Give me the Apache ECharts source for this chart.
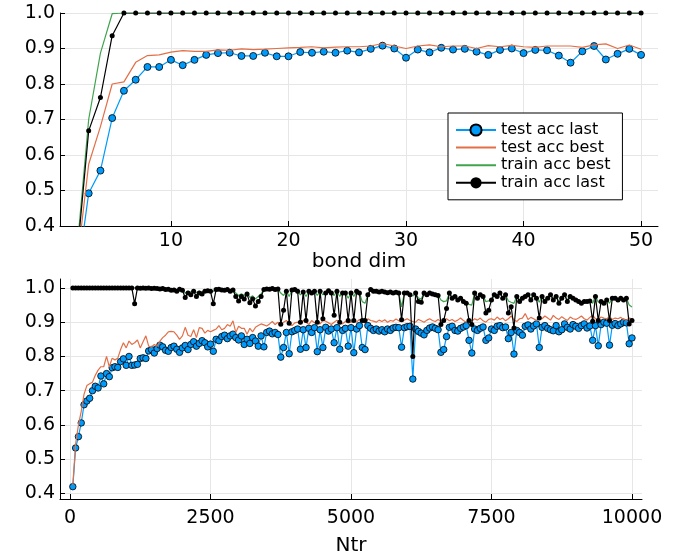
<!DOCTYPE html>
<html style="height: 100%">
<head>
    <meta charset="utf-8">
</head>
<body style="height: 100%; margin: 0; background-color: #fff;">
<div id="container" style="width: 691px; height: 557px"></div>
<script type="text/javascript" src="https://cdn.jsdelivr.net/npm/echarts@6/dist/echarts.min.js"></script>
<script type="text/javascript">
// top panel: accuracy vs bond dimension (bond dim 2..50)
var bondDims = [];
for (var d = 2; d <= 50; d++) bondDims.push(d);

var bdTestLast = [0.25, 0.492, 0.556, 0.704, 0.781, 0.812, 0.848, 0.848, 0.868, 0.853,
    0.868, 0.882, 0.887, 0.888, 0.879, 0.879, 0.888, 0.878, 0.878, 0.89,
    0.888, 0.891, 0.888, 0.894, 0.889, 0.899, 0.908, 0.90, 0.874, 0.897,
    0.889, 0.902, 0.897, 0.899, 0.891, 0.882, 0.896, 0.90, 0.887, 0.896,
    0.895, 0.880, 0.86, 0.892, 0.907, 0.869, 0.885, 0.899, 0.882];
var bdTestBest = [0.29, 0.574, 0.68, 0.80, 0.806, 0.861, 0.88, 0.882, 0.89, 0.894,
    0.892, 0.892, 0.896, 0.895, 0.899, 0.897, 0.898, 0.90, 0.902,
    0.903, 0.905, 0.902, 0.904, 0.905, 0.905, 0.907, 0.914, 0.907, 0.90,
    0.907, 0.91, 0.905, 0.907, 0.907, 0.90, 0.908, 0.905, 0.909, 0.905,
    0.903, 0.907, 0.907, 0.907, 0.903, 0.91, 0.913, 0.90, 0.91, 0.898];
var bdTrainBest = [0.33, 0.70, 0.887, 0.998, 1, 1, 1, 1, 1, 1,
    1, 1, 1, 1, 1, 1, 1, 1, 1, 1, 1, 1, 1, 1, 1, 1, 1, 1, 1, 1,
    1, 1, 1, 1, 1, 1, 1, 1, 1, 1, 1, 1, 1, 1, 1, 1, 1, 1, 1];
var bdTrainLast = [0.31, 0.668, 0.762, 0.936, 1, 1, 1, 1, 1, 1,
    1, 1, 1, 1, 1, 1, 1, 1, 1, 1, 1, 1, 1, 1, 1, 1, 1, 1, 1, 1,
    1, 1, 1, 1, 1, 1, 1, 1, 1, 1, 1, 1, 1, 1, 1, 1, 1, 1, 1];

// bottom panel: accuracy vs training set size (Ntr = 50..10000, step 50)
var ntr = [];
for (var n = 50; n <= 10000; n += 50) ntr.push(n);

var ntTestLast = [
    0.42, 0.533, 0.566, 0.606, 0.659, 0.67, 0.678, 0.70, 0.713, 0.708,
    0.743, 0.72, 0.75, 0.741, 0.767, 0.77, 0.768, 0.785, 0.793, 0.774,
    0.80, 0.774, 0.775, 0.777, 0.794, 0.796, 0.794, 0.816, 0.82, 0.81,
    0.823, 0.833, 0.828, 0.818, 0.815, 0.826, 0.83, 0.821, 0.812, 0.825,
    0.832, 0.82, 0.835, 0.843, 0.83, 0.838, 0.846, 0.84, 0.828, 0.836,
    0.815, 0.85, 0.846, 0.858, 0.862, 0.852, 0.86, 0.865, 0.855, 0.848,
    0.86, 0.835, 0.85, 0.838, 0.855, 0.845, 0.83, 0.86, 0.828, 0.87,
    0.874, 0.866, 0.87, 0.864, 0.798, 0.826, 0.87, 0.808, 0.872, 0.876,
    0.88, 0.821, 0.878, 0.826, 0.882, 0.87, 0.884, 0.814, 0.878, 0.826,
    0.885, 0.874, 0.88, 0.84, 0.884, 0.821, 0.876, 0.882, 0.83, 0.884,
    0.811, 0.88, 0.89, 0.826, 0.82, 0.89, 0.882, 0.876, 0.88, 0.874,
    0.878, 0.872, 0.88, 0.876, 0.883, 0.885, 0.884, 0.827, 0.884, 0.887,
    0.888, 0.734, 0.88, 0.873, 0.868, 0.863, 0.876, 0.883, 0.886, 0.882,
    0.878, 0.812, 0.82, 0.858, 0.885, 0.888, 0.876, 0.874, 0.882, 0.886,
    0.89, 0.847, 0.81, 0.88, 0.876, 0.882, 0.886, 0.847, 0.854, 0.88,
    0.876, 0.888, 0.89, 0.884, 0.886, 0.852, 0.87, 0.807, 0.876, 0.87,
    0.862, 0.888, 0.892, 0.88, 0.889, 0.895, 0.826, 0.885, 0.89, 0.882,
    0.878, 0.875, 0.89, 0.872, 0.878, 0.895, 0.885, 0.88, 0.893, 0.888,
    0.882, 0.89, 0.895, 0.883, 0.889, 0.847, 0.89, 0.831, 0.893, 0.9,
    0.897, 0.833, 0.891, 0.896, 0.89, 0.895, 0.9, 0.898, 0.837, 0.854];
var ntTestBest = [
    0.425, 0.545, 0.6, 0.64, 0.69, 0.715, 0.72, 0.725, 0.745, 0.76,
    0.77, 0.77, 0.8, 0.77, 0.795, 0.79, 0.795, 0.82, 0.84, 0.825,
    0.845, 0.835, 0.84, 0.848, 0.825, 0.843, 0.86, 0.83, 0.828, 0.835,
    0.83, 0.845, 0.855, 0.862, 0.872, 0.873, 0.872, 0.862, 0.85, 0.86,
    0.885, 0.862, 0.858, 0.878, 0.855, 0.884, 0.882, 0.868, 0.876, 0.872,
    0.876, 0.88, 0.89, 0.878, 0.882, 0.893, 0.888, 0.904, 0.87, 0.888,
    0.882, 0.882, 0.865, 0.882, 0.872, 0.885, 0.89, 0.895, 0.892, 0.889,
    0.895, 0.902, 0.893, 0.9, 0.89, 0.9, 0.905, 0.895, 0.89, 0.898,
    0.9, 0.895, 0.905, 0.9, 0.893, 0.905, 0.898, 0.9, 0.895, 0.905,
    0.903, 0.898, 0.893, 0.9, 0.906, 0.9, 0.895, 0.902, 0.898, 0.9,
    0.905, 0.9, 0.908, 0.902, 0.898, 0.91, 0.905, 0.903, 0.9, 0.906,
    0.902, 0.907, 0.9, 0.905, 0.903, 0.909, 0.904, 0.902, 0.906, 0.91,
    0.905, 0.902, 0.9, 0.908, 0.904, 0.9, 0.906, 0.91, 0.905, 0.902,
    0.908, 0.9, 0.905, 0.91, 0.904, 0.908, 0.902, 0.906, 0.912, 0.905,
    0.9, 0.908, 0.903, 0.91, 0.906, 0.912, 0.904, 0.9, 0.908, 0.91,
    0.906, 0.915, 0.908, 0.912, 0.904, 0.91, 0.918, 0.906, 0.902, 0.91,
    0.912, 0.925, 0.908, 0.914, 0.91, 0.905, 0.915, 0.91, 0.918, 0.912,
    0.906, 0.92, 0.912, 0.908, 0.916, 0.91, 0.905, 0.915, 0.91, 0.908,
    0.912, 0.918, 0.91, 0.906, 0.914, 0.92, 0.91, 0.908, 0.915, 0.912,
    0.91, 0.916, 0.908, 0.912, 0.91, 0.914, 0.908, 0.906, 0.912, 0.91];
var ntTrainBest = [
    1, 1, 1, 1, 1, 1, 1, 1, 1, 1,
    1, 1, 1, 1, 1, 1, 1, 1, 1, 1,
    1, 1, 1, 1, 1, 1, 1, 1, 1, 1,
    0.999, 0.998, 0.998, 0.997, 0.997, 0.996, 0.996, 0.995, 0.997, 0.996,
    0.985, 0.99, 0.988, 0.992, 0.986, 0.99, 0.988, 0.992, 0.993, 0.992,
    0.99, 0.996, 0.997, 0.995, 0.994, 0.996, 0.993, 0.995, 0.985, 0.978,
    0.983, 0.978, 0.986, 0.972, 0.977, 0.968, 0.975, 0.982, 0.996, 0.998,
    0.997, 0.998, 0.996, 0.997, 0.985, 0.978, 0.99, 0.975, 0.994, 0.995,
    0.99, 0.98, 0.988, 0.975, 0.99, 0.986, 0.99, 0.978, 0.99, 0.98,
    0.986, 0.992, 0.986, 0.978, 0.99, 0.975, 0.986, 0.986, 0.97, 0.986,
    0.975, 0.99, 0.986, 0.96, 0.955, 0.98, 0.995, 0.99, 0.99, 0.988,
    0.99, 0.988, 0.986, 0.988, 0.986, 0.987, 0.985, 0.945, 0.985, 0.986,
    0.982, 0.976, 0.985, 0.97, 0.968, 0.985, 0.981, 0.985, 0.982, 0.98,
    0.978, 0.965, 0.96, 0.962, 0.985, 0.972, 0.976, 0.968, 0.972, 0.963,
    0.958, 0.952, 0.95, 0.985, 0.972, 0.98, 0.976, 0.96, 0.962, 0.968,
    0.98, 0.976, 0.985, 0.972, 0.98, 0.962, 0.958, 0.955, 0.976, 0.965,
    0.972, 0.976, 0.98, 0.968, 0.98, 0.972, 0.958, 0.976, 0.963, 0.972,
    0.98, 0.968, 0.976, 0.96, 0.972, 0.98, 0.965, 0.976, 0.972, 0.968,
    0.963, 0.958, 0.962, 0.962, 0.964, 0.955, 0.976, 0.958, 0.962, 0.958,
    0.966, 0.955, 0.971, 0.971, 0.966, 0.971, 0.966, 0.97, 0.95, 0.944];
var ntTrainLast = [
    1, 1, 1, 1, 1, 1, 1, 1, 1, 1,
    1, 1, 1, 1, 1, 1, 1, 1, 1, 1,
    1, 1, 0.954, 1, 0.999, 1, 0.999, 1, 0.998, 0.999,
    0.998, 0.997, 0.998, 0.995, 0.996, 0.993, 0.994, 0.99, 0.996, 0.993,
    0.972, 0.985, 0.98, 0.99, 0.975, 0.985, 0.982, 0.99, 0.992, 0.99,
    0.954, 0.995, 0.996, 0.994, 0.993, 0.995, 0.99, 0.994, 0.975, 0.962,
    0.975, 0.968, 0.982, 0.957, 0.968, 0.947, 0.96, 0.975, 0.995, 0.997,
    0.996, 0.998, 0.995, 0.997, 0.894, 0.935, 0.99, 0.897, 0.994, 0.995,
    0.99, 0.9, 0.988, 0.905, 0.99, 0.985, 0.99, 0.9, 0.99, 0.91,
    0.985, 0.992, 0.985, 0.92, 0.99, 0.9, 0.985, 0.985, 0.905, 0.985,
    0.905, 0.99, 0.985, 0.905, 0.905, 0.98, 0.995, 0.99, 0.99, 0.988,
    0.99, 0.988, 0.986, 0.988, 0.985, 0.987, 0.985, 0.907, 0.985, 0.985,
    0.98, 0.80, 0.985, 0.96, 0.958, 0.985, 0.98, 0.985, 0.982, 0.98,
    0.978, 0.893, 0.905, 0.94, 0.985, 0.97, 0.975, 0.965, 0.97, 0.96,
    0.955, 0.905, 0.893, 0.985, 0.97, 0.98, 0.975, 0.927, 0.935, 0.965,
    0.98, 0.975, 0.985, 0.97, 0.98, 0.927, 0.945, 0.883, 0.975, 0.96,
    0.97, 0.975, 0.98, 0.965, 0.98, 0.97, 0.912, 0.975, 0.96, 0.97,
    0.98, 0.965, 0.975, 0.955, 0.97, 0.98, 0.96, 0.975, 0.97, 0.965,
    0.96, 0.955, 0.96, 0.96, 0.962, 0.903, 0.975, 0.905, 0.96, 0.955,
    0.965, 0.905, 0.97, 0.97, 0.965, 0.97, 0.965, 0.97, 0.895, 0.905];

var names = ['test acc last', 'test acc best', 'train acc best', 'train acc last'];
var colors = ['#009afa', '#e36f47', '#3ea44e', '#000000'];
var font = 'DejaVu Sans';

function pairs(xs, ys) {
    return xs.map(function (x, i) { return [x, ys[i]]; });
}

function xAxisOf(gridIndex, min, max, ticks, name, gap, margin) {
    return {
        type: 'value', gridIndex: gridIndex, min: min, max: max,
        name: name, nameLocation: 'middle', nameGap: gap,
        nameTextStyle: { fontSize: 20, fontFamily: font, color: '#000' },
        axisLine: { onZero: false, lineStyle: { color: '#000', width: 1 } },
        axisTick: { inside: true, length: 5, customValues: ticks, lineStyle: { color: '#000' } },
        axisLabel: {
            customValues: ticks, fontSize: 19, fontFamily: font, color: '#000', margin: margin,
            formatter: function (v) { return String(v); }
        },
        splitLine: { show: true, lineStyle: { color: '#e6e6e6', width: 1 } }
    };
}
function yAxisOf(gridIndex, min, max, ticks) {
    return {
        type: 'value', gridIndex: gridIndex, min: min, max: max,
        axisLine: { show: true, onZero: false, lineStyle: { color: '#000', width: 1 } },
        axisTick: { show: true, inside: true, length: 5, customValues: ticks, lineStyle: { color: '#000' } },
        axisLabel: {
            customValues: ticks, fontSize: 19, fontFamily: font, color: '#000', margin: 5,
            formatter: function (v) { return v.toFixed(1); }
        },
        splitLine: { show: true, lineStyle: { color: '#e6e6e6', width: 1 } }
    };
}

function lineSeries(k, axisIdx, data, blueSize, blackSize) {
    var s = {
        name: names[k], type: 'line', xAxisIndex: axisIdx, yAxisIndex: axisIdx,
        data: data, animation: false, clip: true,
        lineStyle: { color: colors[k], width: 1.2 },
        itemStyle: { color: colors[k] },
        z: 2 + k
    };
    if (k === 0) {
        s.symbol = 'circle'; s.symbolSize = blueSize; s.showSymbol = true;
        s.itemStyle = { color: colors[0], borderColor: '#000', borderWidth: 0.8 };
    } else if (k === 3) {
        s.symbol = 'circle'; s.symbolSize = blackSize; s.showSymbol = true;
    } else {
        s.symbol = 'none';
    }
    return s;
}

var ticksY = [0.4, 0.5, 0.6, 0.7, 0.8, 0.9, 1.0];
var chart = echarts.init(document.getElementById('container'));
chart.setOption({
    backgroundColor: '#fff',
    animation: false,
    grid: [
        { left: 60, top: 13, width: 598, height: 213 },
        { left: 60, top: 279, width: 582, height: 220 }
    ],
    legend: {
        data: [
            { name: names[0] },
            { name: names[1], itemStyle: { opacity: 0 } },
            { name: names[2], itemStyle: { opacity: 0 } },
            { name: names[3] }
        ],
        orient: 'vertical', left: 448, top: 113,
        itemWidth: 40, itemHeight: 14, itemGap: 1.6,
        padding: [9, 12, 9, 7],
        borderColor: '#000', borderWidth: 1, backgroundColor: '#fff',
        textStyle: { fontSize: 16, fontFamily: font, color: '#000', lineHeight: 14 },
        selectedMode: false
    },
    xAxis: [
        xAxisOf(0, 0.56, 51.44, [10, 20, 30, 40, 50], 'bond dim', 26, 6),
        xAxisOf(1, -178, 10178, [0, 2500, 5000, 7500, 10000], 'Ntr', 37, 10)
    ],
    yAxis: [
        yAxisOf(0, 0.4, 1.0, ticksY),
        yAxisOf(1, 0.384, 1.026, ticksY)
    ],
    series: [
        lineSeries(0, 0, pairs(bondDims, bdTestLast), 7, 5),
        lineSeries(1, 0, pairs(bondDims, bdTestBest)),
        lineSeries(2, 0, pairs(bondDims, bdTrainBest)),
        lineSeries(3, 0, pairs(bondDims, bdTrainLast), 7, 5),
        lineSeries(0, 1, pairs(ntr, ntTestLast), 6.5, 5),
        lineSeries(1, 1, pairs(ntr, ntTestBest)),
        lineSeries(2, 1, pairs(ntr, ntTrainBest)),
        lineSeries(3, 1, pairs(ntr, ntTrainLast), 6.5, 5)
    ]
});
</script>
</body>
</html>
